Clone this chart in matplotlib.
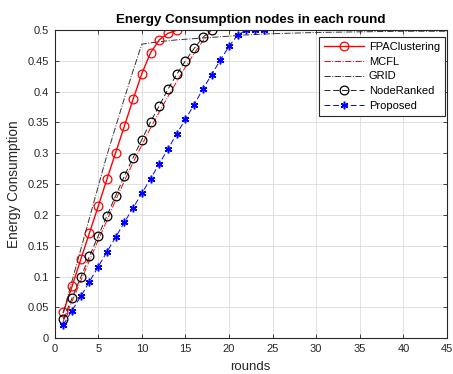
import matplotlib
matplotlib.use("Agg")
import matplotlib.pyplot as plt

plt.rcParams['font.family'] = ['Liberation Sans', 'DejaVu Sans']

rounds_fpa = list(range(1, 15))
fpa = [0.042, 0.084, 0.128, 0.171, 0.214, 0.258, 0.301, 0.344, 0.3875, 0.429,
       0.463, 0.484, 0.4946, 0.4995]

rounds_mcfl = list(range(1, 19))
mcfl = [0.028, 0.060, 0.093, 0.126, 0.159, 0.191, 0.224, 0.255, 0.285, 0.313,
        0.341, 0.367, 0.392, 0.416, 0.440, 0.462, 0.482, 0.500]

rounds_grid = [1, 2, 3, 4, 5, 6, 7, 8, 9, 10, 12, 14, 16, 18, 20, 22, 25, 30, 35, 40, 45]
grid = [0.042, 0.093, 0.144, 0.195, 0.246, 0.297, 0.343, 0.389, 0.434, 0.477,
        0.481, 0.484, 0.486, 0.488, 0.490, 0.492, 0.494, 0.496, 0.497, 0.498, 0.498]

rounds_node = list(range(1, 19))
node = [0.031, 0.065, 0.099, 0.133, 0.166, 0.1985, 0.231, 0.263, 0.293, 0.322,
        0.351, 0.377, 0.404, 0.428, 0.450, 0.470, 0.488, 0.500]

rounds_prop = list(range(1, 25))
proposed = [0.022, 0.045, 0.068, 0.092, 0.116, 0.140, 0.164, 0.188, 0.2115, 0.235,
            0.2586, 0.283, 0.307, 0.3317, 0.355, 0.379, 0.404, 0.4275, 0.451, 0.4735,
            0.492, 0.500, 0.500, 0.500]

xticks = list(range(0, 50, 5))
yticks = [0, 0.05, 0.1, 0.15, 0.2, 0.25, 0.3, 0.35, 0.4, 0.45, 0.5]
ytick_labels = ['0', '0.05', '0.1', '0.15', '0.2', '0.25', '0.3', '0.35', '0.4', '0.45', '0.5']

fig = plt.figure(figsize=(4.53, 3.74), dpi=100)
ax = fig.add_axes([0.1205, 0.0955, 0.8663, 0.8243])

ax.plot(rounds_fpa, fpa, '-', color='#ff0000', lw=1.0, marker='o', ms=6.3,
        mfc='none', mec='#ff0000', mew=0.9, label='FPAClustering')
ax.plot(rounds_mcfl, mcfl, '-.', color='#ff0000', lw=0.7, label='MCFL')
ax.plot(rounds_grid, grid, '-.', color='#333333', lw=0.7, label='GRID')
ax.plot(rounds_node, node, '--', color='#222222', lw=0.7, marker='o', ms=6.3,
        mfc='none', mec='black', mew=0.9, label='NodeRanked', dashes=(6, 3))
ax.plot(rounds_prop, proposed, '--', color='#0000ff', lw=0.7, marker=(6, 2, 0), ms=5.5,
        mec='#0000ff', mew=1.1, label='Proposed', dashes=(6, 3))

ax.set_xlim(0, 45)
ax.set_ylim(0, 0.5)
ax.set_xticks(xticks)
ax.set_yticks(yticks)
ax.set_yticklabels(ytick_labels)
ax.tick_params(direction='in', top=True, right=True, labelsize=8, length=3, width=0.6,
               colors='#262626', pad=4)
ax.grid(True, color='#dcdcdc', lw=0.6)
ax.set_axisbelow(True)
for s in ax.spines.values():
    s.set_linewidth(0.8)
    s.set_color('#262626')

ax.set_xlabel('rounds', fontsize=9.5, color='#262626', labelpad=5)
ax.set_ylabel('Energy Consumption', fontsize=9.8, color='#262626', labelpad=5)
ax.set_title('Energy Consumption nodes in each round', fontsize=9.6, fontweight='bold',
             pad=5)

leg = ax.legend(loc='upper right', bbox_to_anchor=(0.995, 0.977), borderaxespad=0.0,
                fontsize=8, fancybox=False, framealpha=1, edgecolor='#262626',
                handlelength=3.6, borderpad=0.45, labelspacing=0.42, handletextpad=0.4)
leg.get_frame().set_linewidth(0.8)

fig.savefig('out.png', dpi=100)
